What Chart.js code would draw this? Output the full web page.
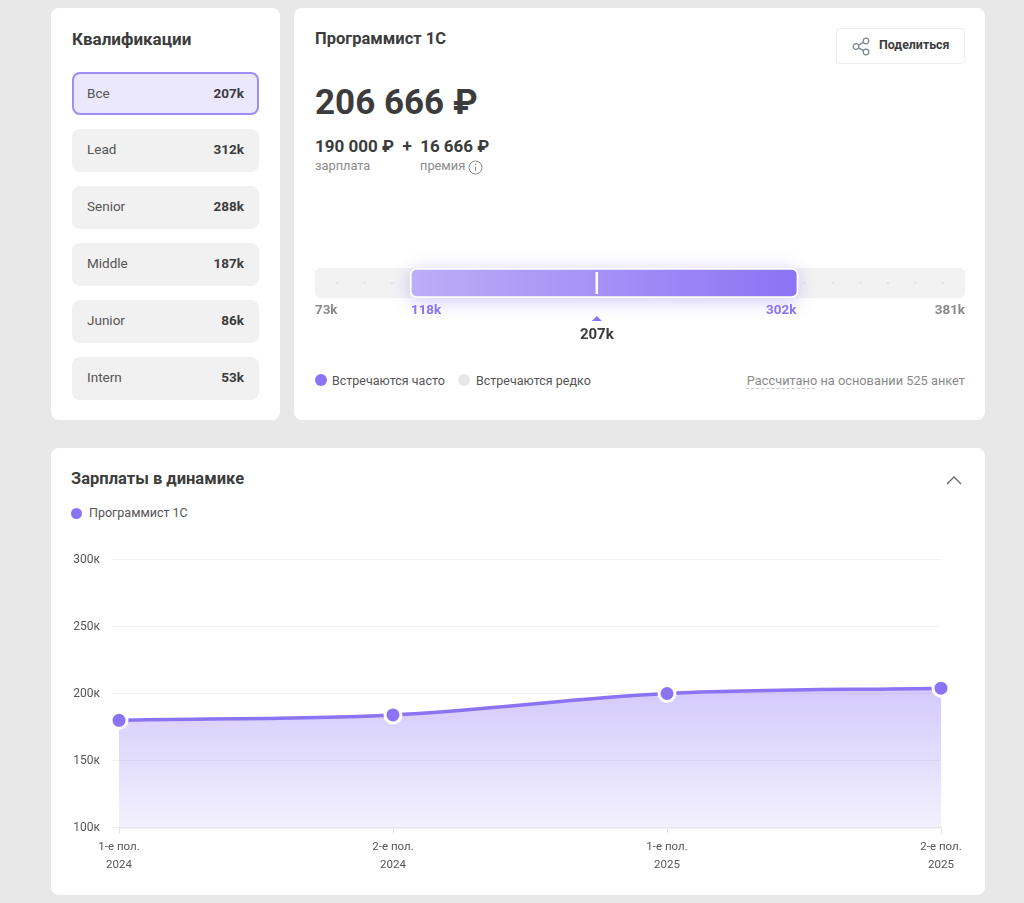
<!DOCTYPE html>
<html lang="ru">
<head>
<meta charset="utf-8">
<title>Программист 1С</title>
<script src="https://cdn.jsdelivr.net/npm/chart.js@4"></script>
<style>
  html, body { margin: 0; padding: 0; }
  body { width: 1024px; height: 903px; background: #e8e8e8; position: relative; overflow: hidden;
         font-family: Roboto, "Noto Sans", sans-serif; color: #3c3c3c; }
  .card { position: absolute; background: #fff; border-radius: 8px; }
  .t { position: absolute; white-space: nowrap; line-height: 20px; }
  .b { font-weight: 700; }
  .muted { color: #8a8a8a; font-size: 12.8px; }
  .qual { position: absolute; left: 72px; width: 187px; height: 43px; box-sizing: border-box; background: #f1f1f1;
          border-radius: 8px; display: flex; justify-content: space-between; align-items: center;
          padding: 0 15px 4px; font-size: 13.5px; color: #555; }
  .qual b { color: #3c3c3c; font-size: 13.5px; }
  .qual.on { background: #ebe7fc; border: 2px solid #a08cf7; padding: 0 13px 2px; }
  .dot { position: absolute; width: 12px; height: 12px; border-radius: 50%; }
  .share { position: absolute; left: 836px; top: 28px; width: 129px; height: 36px; box-sizing: border-box;
           border: 1px solid #ececec; border-radius: 4px; background: #fff; }
  canvas { position: absolute; }
</style>
</head>
<body>
<div class="card" style="left:51px;top:8px;width:229px;height:412px"></div>
<div class="card" style="left:294px;top:8px;width:691px;height:412px"></div>
<div class="card" style="left:51px;top:448px;width:934px;height:447px"></div>

<div class="t b" style="left:72px;top:29px;font-size:17px">Квалификации</div>
<div id="quals"></div>

<div class="t b" style="left:315px;top:29px;font-size:16.5px">Программист 1С</div>
<div class="share">
  <svg style="position:absolute;left:15px;top:8px" width="19" height="19" viewBox="0 0 19 19" fill="none" stroke="#7c8490" stroke-width="1.2">
    <circle cx="4" cy="9.5" r="2.8"/><circle cx="14" cy="4" r="2.8"/><circle cx="14" cy="15" r="2.8"/>
    <path d="M6.5 8.1 11.5 5.4M6.5 10.9 11.5 13.6"/>
  </svg>
  <div class="t b" style="left:42px;top:6px;font-size:12.4px">Поделиться</div>
</div>
<div class="t b" style="left:315px;top:90px;font-size:35px;line-height:26px;height:26px">206 666 ₽</div>
<div class="t b" style="left:315px;top:136px;font-size:17px">190 000 ₽&nbsp; +&nbsp; 16 666 ₽</div>
<div class="t muted" style="left:315px;top:156px">зарплата</div>
<div class="t muted" style="left:420px;top:156px">премия</div>
<svg style="position:absolute;left:468px;top:160px" width="15" height="15" viewBox="0 0 15 15" fill="none" stroke="#8a8a8a">
  <circle cx="7.5" cy="7.5" r="6.5"/><path d="M7.5 6.5v4.5M7.5 3.8v1.4"/>
</svg>

<canvas id="rangeChart" style="left:294px;top:250px;width:691px;height:100px"></canvas>

<div class="dot" style="left:315px;top:374px;background:#8b73f5"></div>
<div class="t" style="left:332px;top:371px;font-size:12.5px;color:#555">Встречаются часто</div>
<div class="dot" style="left:458px;top:374px;background:#e8e8e8"></div>
<div class="t" style="left:476px;top:371px;font-size:12.5px;color:#555">Встречаются редко</div>
<div class="t muted" style="right:59px;top:371px">Рассчитано на основании 525 анкет</div>
<div style="position:absolute;left:746px;top:388px;width:69px;border-top:1px dashed #c4c4c4"></div>

<div class="t b" style="left:71px;top:469px;font-size:16.5px">Зарплаты в динамике</div>
<svg style="position:absolute;left:946px;top:474px" width="16" height="12" viewBox="0 0 16 12" fill="none" stroke="#666" stroke-width="1.3">
  <path d="M1 10 8 3l7 7"/>
</svg>
<div class="dot" style="left:71px;top:508px;width:11px;height:11px;background:#8b73f5"></div>
<div class="t" style="left:89px;top:503px;font-size:12.5px;color:#555">Программист 1С</div>

<canvas id="salaryChart" style="left:51px;top:540px;width:934px;height:355px"></canvas>

<script>
const PURPLE = "#8b73f5";

// qualifications list
const qualNames = ["Все", "Lead", "Senior", "Middle", "Junior", "Intern"];
const qualValues = ["207k", "312k", "288k", "187k", "86k", "53k"];

// range bar, in thousands
const rangeMin = 73;
const rangeMax = 381;
const rangeLow = 118;
const rangeHigh = 302;
const rangeMedian = 207;
const rareDots = [83.5, 96.5, 109.5, 305, 318.5, 331.5, 344.5, 357.5, 370.5];

// salaries over time, in thousands
const periods = [["1-е пол.", "2024"], ["2-е пол.", "2024"], ["1-е пол.", "2025"], ["2-е пол.", "2025"]];
const salaries = [180, 184, 200, 204];
const yTicks = [100, 150, 200, 250, 300];

qualNames.forEach((name, i) => {
  const el = document.createElement("div");
  el.className = "qual" + (i === 0 ? " on" : "");
  el.style.top = (72 + i * 57) + "px";
  el.innerHTML = "<span>" + name + "</span><b>" + qualValues[i] + "</b>";
  document.getElementById("quals").appendChild(el);
});

const rangeMarks = {
  id: "rangeMarks",
  beforeDatasetDraw(chart, args) {
    // the bar element clips its own shadow, so the glow goes underneath it
    if (args.index === 0) {
      const ctx = chart.ctx;
      const x = chart.scales.x;
      const area = chart.chartArea;
      const left = x.getPixelForValue(rangeLow);
      ctx.save();
      ctx.shadowColor = "rgba(139,115,245,0.4)";
      ctx.shadowBlur = 18;
      ctx.shadowOffsetY = 3;
      ctx.fillStyle = "#fff";
      ctx.beginPath();
      ctx.roundRect(left, area.top, x.getPixelForValue(rangeHigh) - left, area.height, 7);
      ctx.fill();
      ctx.restore();
    }
  },
  afterDatasetDraw(chart, args) {
    const ctx = chart.ctx;
    const x = chart.scales.x;
    const area = chart.chartArea;
    if (args.index === 0) {
      // median mark
      ctx.fillStyle = "#fff";
      ctx.fillRect(x.getPixelForValue(rangeMedian) - 2.25, area.top + 4, 2.5, area.height - 8);
    }
    if (args.index === 1) {
      ctx.fillStyle = "#dedede";
      rareDots.forEach(v => {
        ctx.beginPath();
        ctx.arc(x.getPixelForValue(v), area.top + area.height / 2, 1, 0, Math.PI * 2);
        ctx.fill();
      });
    }
  },
  afterDraw(chart) {
    const ctx = chart.ctx;
    const x = chart.scales.x;
    const y = chart.chartArea.bottom + 13;
    ctx.save();
    ctx.font = "700 13.4px Roboto";
    ctx.textBaseline = "middle";
    [[rangeMin, "left", "#8a8a8a", 0], [rangeLow, "left", PURPLE, 1], [rangeHigh, "right", PURPLE, -2], [rangeMax, "right", "#8a8a8a", 0]].forEach(([v, align, color, nudge]) => {
      ctx.textAlign = align;
      ctx.fillStyle = color;
      ctx.fillText(v + "k", x.getPixelForValue(v) + nudge, y);
    });
    const mx = x.getPixelForValue(rangeMedian) - 1;
    ctx.fillStyle = PURPLE;
    ctx.beginPath();
    ctx.moveTo(mx - 5, y + 10);
    ctx.lineTo(mx + 5, y + 10);
    ctx.lineTo(mx, y + 5);
    ctx.fill();
    ctx.fillStyle = "#3c3c3c";
    ctx.textAlign = "center";
    ctx.font = "700 15px Roboto";
    ctx.fillText(rangeMedian + "k", mx, y + 24);
    ctx.restore();
  }
};

new Chart(document.getElementById("rangeChart"), {
  type: "bar",
  plugins: [rangeMarks],
  data: {
    labels: [""],
    datasets: [
      {
        data: [[rangeLow, rangeHigh]],
        clip: false,
        borderColor: "#fff",
        borderWidth: 2,
        borderSkipped: false,
        borderRadius: 7,
        backgroundColor(c) {
          const a = c.chart.chartArea;
          if (!a) return PURPLE;
          const x = c.chart.scales.x;
          const g = c.chart.ctx.createLinearGradient(x.getPixelForValue(rangeLow), 0, x.getPixelForValue(rangeHigh), 0);
          g.addColorStop(0, "#bcaef7");
          g.addColorStop(1, PURPLE);
          return g;
        }
      },
      {
        data: [[rangeMin, rangeMax]],
        backgroundColor: "#f2f2f2",
        borderSkipped: false,
        borderRadius: 7
      }
    ]
  },
  options: {
    indexAxis: "y",
    responsive: false,
    animation: false,
    layout: { padding: { left: 21, right: 20, top: 18, bottom: 52 } },
    plugins: { legend: { display: false }, tooltip: { enabled: false } },
    scales: {
      x: { display: false, min: rangeMin, max: rangeMax },
      y: { display: false, stacked: true }
    },
    datasets: { bar: { barPercentage: 1, categoryPercentage: 1 } }
  }
});

new Chart(document.getElementById("salaryChart"), {
  type: "line",
  data: {
    labels: periods,
    datasets: [{
      label: "Программист 1С",
      data: salaries,
      borderColor: PURPLE,
      borderWidth: 3.5,
      cubicInterpolationMode: "monotone",
      fill: "start",
      backgroundColor(c) {
        const chart = c.chart;
        if (!chart.chartArea) return "rgba(139,115,245,0.3)";
        const g = chart.ctx.createLinearGradient(0, chart.scales.y.getPixelForValue(204), 0, chart.chartArea.bottom);
        g.addColorStop(0, "rgba(139,115,245,0.38)");
        g.addColorStop(1, "rgba(139,115,245,0.1)");
        return g;
      },
      pointRadius: 8,
      pointBackgroundColor: PURPLE,
      pointBorderColor: "#fff",
      pointBorderWidth: 3,
      clip: false
    }]
  },
  options: {
    responsive: false,
    animation: false,
    layout: { padding: { left: 0, right: 44, top: 19.5, bottom: 0 } },
    plugins: { legend: { display: false }, tooltip: { enabled: false } },
    scales: {
      x: {
        offset: false,
        afterFit(scale) { scale.height = 67.5; },
        border: { color: "#e6e6ea", width: 1.5 },
        grid: { drawOnChartArea: false, color: "#e3e3e6", tickLength: 6 },
        ticks: { color: "#555", font: { family: "Roboto", size: 11.5, lineHeight: 1.55 }, padding: 5, maxRotation: 0, autoSkip: false }
      },
      y: {
        min: 100,
        max: 300,
        afterBuildTicks(scale) { scale.ticks = yTicks.map(value => ({ value })); },
        afterFit(scale) { scale.width = 68; },
        border: { display: false },
        grid: { color: "#f1f1f1", tickLength: 7 },
        ticks: { color: "#555", font: { family: "Roboto", size: 12 }, padding: 12, callback: v => v + "к" }
      }
    }
  }
});
</script>
</body>
</html>
